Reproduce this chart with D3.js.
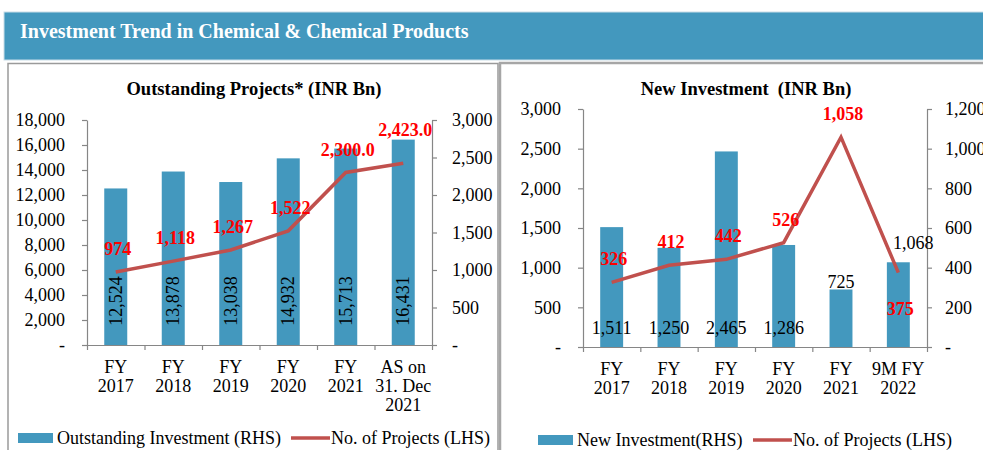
<!DOCTYPE html>
<html>
<head>
<meta charset="utf-8">
<script src="https://cdn.jsdelivr.net/npm/d3@7"></script>
<style>
  body { margin: 0; background: #fff; }
  svg { display: block; font-family: "Liberation Serif", "Times New Roman", serif; }
</style>
</head>
<body>
<svg id="chart" width="983" height="450"></svg>
<script>
// ---- data ----
const leftCats = [["FY", "2017"], ["FY", "2018"], ["FY", "2019"], ["FY", "2020"], ["FY", "2021"], ["AS on", "31. Dec", "2021"]];
const leftInvest = [12524, 13878, 13038, 14932, 15713, 16431];
const leftProjects = [974, 1118, 1267, 1522, 2300, 2423];
const leftProjLabels = ["974", "1,118", "1,267", "1,522", "2,300.0", "2,423.0"];

const rightCats = [["FY", "2017"], ["FY", "2018"], ["FY", "2019"], ["FY", "2020"], ["FY", "2021"], ["9M FY", "2022"]];
const rightInvest = [1511, 1250, 2465, 1286, 725, 1068];
const rightProjects = [326, 412, 442, 526, 1058, 375];

const leftBarTicks = d3.range(0, 18001, 2000);
const leftLineTicks = d3.range(0, 3001, 500);
const rightBarTicks = d3.range(0, 3001, 500);
const rightLineTicks = d3.range(0, 1201, 200);

const barColor = "#4398BE";
const lineColor = "#C0504D";
const axisColor = "#868686";
const fs = 18;
const fmt = d3.format(",");
const tickFmt = v => v === 0 ? "-" : fmt(v);

const svg = d3.select("#chart");

// header band
svg.append("rect").attr("x", 4).attr("y", 12).attr("width", 985).attr("height", 48)
    .attr("fill", "#4398BE").attr("stroke", "#c9dde8").attr("stroke-width", 1);
svg.append("text").attr("x", 20).attr("y", 38)
    .text("Investment Trend in Chemical & Chemical Products")
    .attr("fill", "#fff").attr("font-weight", "bold").attr("font-size", 20);

// panel borders
svg.append("rect").attr("x", 8).attr("y", 63.5).attr("width", 490).attr("height", 400)
    .attr("fill", "none").attr("stroke", "#9a9a9a").attr("stroke-width", 1.5);
svg.append("rect").attr("x", 500).attr("y", 63).attr("width", 500).attr("height", 400)
    .attr("fill", "none").attr("stroke", "#a6a6a6").attr("stroke-width", 2.5);

function drawChart(opt) {
    const g = svg.append("g");
    const x = d3.scaleBand().domain(d3.range(opt.cats.length)).range([opt.x0, opt.x1]);
    const yBar = d3.scaleLinear().domain([0, opt.barMax]).range([opt.yBottom, opt.yTop]);
    const yLine = d3.scaleLinear().domain([0, opt.lineMax]).range([opt.yBottom, opt.yTop]);
    const bw = x.bandwidth() * 0.4;

    g.append("text").attr("x", opt.titleX).attr("y", 95).attr("text-anchor", "middle")
        .attr("font-weight", "bold").attr("font-size", 18.5).attr("xml:space", "preserve")
        .text(opt.title);

    // bars
    g.selectAll("rect.bar").data(opt.bars).join("rect").attr("class", "bar")
        .attr("x", (d, i) => x(i) + (x.bandwidth() - bw) / 2)
        .attr("width", bw)
        .attr("y", d => yBar(d))
        .attr("height", d => yBar(0) - yBar(d))
        .attr("fill", barColor);

    // left axis
    const la = g.append("g").attr("transform", `translate(${opt.x0},0)`)
        .call(d3.axisLeft(yBar).tickValues(opt.barTicks).tickFormat(tickFmt).tickSize(5).tickSizeOuter(0).tickPadding(17));
    // right axis
    const ra = g.append("g").attr("transform", `translate(${opt.x1},0)`)
        .call(d3.axisRight(yLine).tickValues(opt.lineTicks).tickFormat(tickFmt).tickSize(5).tickSizeOuter(0).tickPadding(opt.rPad));
    // x axis
    const xa = g.append("g").attr("transform", `translate(0,${opt.yBottom})`)
        .call(d3.axisBottom(d3.scaleLinear().domain([0, opt.cats.length]).range([opt.x0, opt.x1]))
            .tickValues(d3.range(0, opt.cats.length + 1)).tickFormat("").tickSize(5).tickSizeOuter(0));
    [la, ra, xa].forEach(a => {
        a.selectAll("path, line").attr("stroke", axisColor).attr("stroke-width", 1.2);
        a.selectAll("text").attr("font-size", fs).attr("fill", "#000")
            .attr("font-family", "Liberation Serif, serif");
    });

    // category labels
    opt.cats.forEach((c, i) => {
        const t = g.append("text").attr("x", x(i) + x.bandwidth() / 2).attr("y", opt.yBottom + 28)
            .attr("text-anchor", "middle").attr("font-size", fs);
        c.forEach((s, k) => t.append("tspan").attr("x", x(i) + x.bandwidth() / 2)
            .attr("dy", k === 0 ? 0 : 19).text(s));
    });

    // line
    const line = d3.line().x((d, i) => x(i) + x.bandwidth() / 2).y(d => yLine(d));
    g.append("path").datum(opt.line).attr("d", line).attr("fill", "none")
        .attr("stroke", lineColor).attr("stroke-width", 3.5);

    // bar value labels
    opt.bars.forEach((v, i) => opt.barLabel(g, x(i) + x.bandwidth() / 2, yBar(v), v, i));

    // line value labels
    opt.line.forEach((v, i) => {
        const p = opt.lineLabelPos(i);
        g.append("text").attr("x", x(i) + x.bandwidth() / 2 + 2).attr("y", yLine(v) + p)
            .attr("text-anchor", "middle").attr("font-weight", "bold").attr("font-size", fs)
            .attr("fill", "#FF0000").text(opt.lineLabels[i]);
    });

    // legend
    const lg = opt.legend;
    g.append("rect").attr("x", lg.x).attr("y", lg.y - 5).attr("width", 35).attr("height", 10).attr("fill", barColor);
    g.append("text").attr("x", lg.x + 39).attr("y", lg.y + 6).attr("font-size", fs).text(lg.barText);
    g.append("line").attr("x1", lg.lx).attr("x2", lg.lx + 39).attr("y1", lg.y).attr("y2", lg.y)
        .attr("stroke", lineColor).attr("stroke-width", 3.5);
    g.append("text").attr("x", lg.lx + 40).attr("y", lg.y + 6).attr("font-size", fs).text(lg.lineText);
}

drawChart({
    title: "Outstanding Projects* (INR Bn)", titleX: 254,
    cats: leftCats, bars: leftInvest, line: leftProjects, lineLabels: leftProjLabels,
    x0: 87, x1: 432, yTop: 120, yBottom: 345, rPad: 15,
    barMax: 18000, lineMax: 3000, barTicks: leftBarTicks, lineTicks: leftLineTicks,
    barLabel: (g, cx, top, v) => {
        g.append("text").attr("transform", `translate(${cx + 6},301) rotate(-90)`)
            .attr("text-anchor", "middle").attr("font-size", fs).text(fmt(v));
    },
    lineLabelPos: i => i === leftProjects.length - 1 ? -27 : -17,
    legend: { x: 18, y: 438, lx: 291, barText: "Outstanding Investment (RHS)", lineText: "No. of Projects (LHS)" }
});

drawChart({
    title: "New Investment  (INR Bn)", titleX: 746,
    cats: rightCats, bars: rightInvest, line: rightProjects, lineLabels: rightProjects.map(fmt),
    x0: 583, x1: 927, yTop: 109, yBottom: 347, rPad: 13,
    barMax: 3000, lineMax: 1200, barTicks: rightBarTicks, lineTicks: rightLineTicks,
    barLabel: (g, cx, top, v, i) => {
        let y = 334, dx = 0;
        if (i === 4) y = top - 1;
        if (i === 5) { y = top - 13; dx = 15; }
        g.append("text").attr("x", cx + dx).attr("y", y)
            .attr("text-anchor", "middle").attr("font-size", fs).text(fmt(v));
    },
    lineLabelPos: i => i === rightProjects.length - 1 ? 42 : -17,
    legend: { x: 538, y: 440, lx: 753, barText: "New Investment(RHS)", lineText: "No. of Projects (LHS)" }
});
</script>
</body>
</html>
